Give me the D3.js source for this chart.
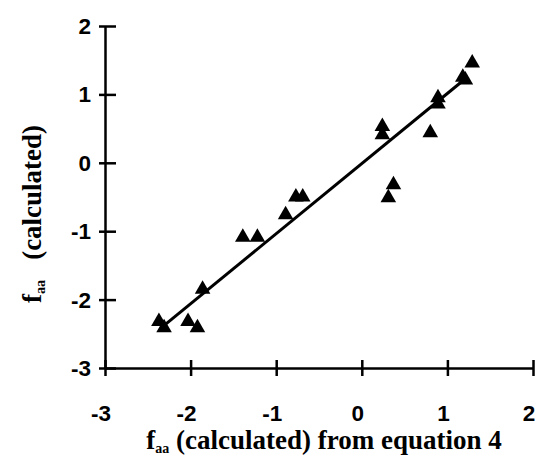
<!DOCTYPE html>
<html>
<head>
<meta charset="utf-8">
<script src="https://cdn.jsdelivr.net/npm/d3@7"></script>
<style>
  body { margin: 0; background: #fff; }
  svg { display: block; }
</style>
</head>
<body>
<svg id="chart" width="542" height="460"></svg>
<script>
var xVals = [-2.37, -2.31, -2.03, -1.92, -1.86, -1.39, -1.22, -0.89, -0.77, -0.69,
  0.24, 0.24, 0.37, 0.31, 0.80, 0.89, 0.89, 1.18, 1.21, 1.29]
var yVals = [-2.32, -2.41, -2.32, -2.41, -1.85, -1.09, -1.09, -0.76, -0.50, -0.50,
  0.53, 0.41, -0.32, -0.51, 0.44, 0.95, 0.86, 1.25, 1.21, 1.46]
// regression line end points
var fitX = [-2.33, 1.22]
var fitY = [-2.40, 1.24]
var xTicks = [-3, -2, -1, 0, 1, 2]
var yTicks = [-3, -2, -1, 0, 1, 2]

var svg = d3.select('#chart')

var x = d3.scaleLinear().domain([-3, 2]).range([105, 533])
var y = d3.scaleLinear().domain([-3, 2]).range([368, 26])

// axes, with ticks crossing the line
var xAxis = svg.append('g')
  .attr('transform', 'translate(0,' + y(-3) + ')')
  .call(d3.axisBottom(x).tickValues(xTicks).tickSize(0).tickFormat(''))
xAxis.select('.domain').attr('stroke', '#000').attr('stroke-width', 2.5)
xAxis.selectAll('.tick').append('line')
  .attr('y1', -8).attr('y2', 8)
  .attr('stroke', '#000').attr('stroke-width', 2.5)

var yAxis = svg.append('g')
  .attr('transform', 'translate(' + x(-3) + ',0)')
  .call(d3.axisLeft(y).tickValues(yTicks).tickSize(0).tickFormat(''))
yAxis.select('.domain').attr('stroke', '#000').attr('stroke-width', 2.5)
yAxis.selectAll('.tick').append('line')
  .attr('x1', -6).attr('x2', 11)
  .attr('stroke', '#000').attr('stroke-width', 2.5)

// tick labels
svg.selectAll('.xlab')
  .data(xTicks)
  .enter().append('text')
  .attr('x', function (d) { return x(d) - 4 })
  .attr('y', 421)
  .attr('text-anchor', 'middle')
  .attr('font-family', 'Liberation Sans, Arial, sans-serif')
  .attr('font-weight', 'bold')
  .attr('font-size', 22.5)
  .text(function (d) { return d })

svg.selectAll('.ylab')
  .data(yTicks)
  .enter().append('text')
  .attr('x', 91)
  .attr('y', function (d) { return y(d) + 8 })
  .attr('text-anchor', 'end')
  .attr('font-family', 'Liberation Sans, Arial, sans-serif')
  .attr('font-weight', 'bold')
  .attr('font-size', 22.5)
  .text(function (d) { return d })

// fitted line
svg.append('line')
  .attr('x1', x(fitX[0])).attr('y1', y(fitY[0]))
  .attr('x2', x(fitX[1])).attr('y2', y(fitY[1]))
  .attr('stroke', '#000')
  .attr('stroke-width', 3)

// triangles
var tri = d3.symbol().type(d3.symbolTriangle).size(105)
svg.selectAll('.pt')
  .data(xVals)
  .enter().append('path')
  .attr('d', tri)
  .attr('transform', function (d, i) {
    return 'translate(' + x(d) + ',' + y(yVals[i]) + ')'
  })
  .attr('fill', '#000')

// axis titles
var xt = svg.append('text')
  .attr('x', 324).attr('y', 449)
  .attr('text-anchor', 'middle')
  .attr('font-family', 'Liberation Serif, Times New Roman, serif')
  .attr('font-weight', 'bold')
  .attr('font-size', 27)
xt.append('tspan').text('f')
xt.append('tspan').attr('font-size', 14).attr('dy', 4).text('aa')
xt.append('tspan').attr('dy', -4).text(' (calculated) from equation 4')

var yt = svg.append('text')
  .attr('transform', 'translate(41,214) rotate(-90)')
  .attr('text-anchor', 'middle')
  .attr('font-family', 'Liberation Serif, Times New Roman, serif')
  .attr('font-weight', 'bold')
  .attr('font-size', 27)
yt.append('tspan').text('f')
yt.append('tspan').attr('font-size', 14).attr('dy', 4).text('aa')
yt.append('tspan').attr('dy', -4).text('\u00a0\u00a0\u00a0(calculated)')
</script>
</body>
</html>
